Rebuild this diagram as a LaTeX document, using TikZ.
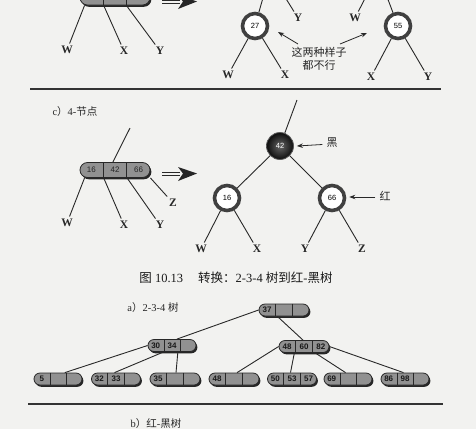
\documentclass[tikz,border=0pt]{standalone}
\usepackage{fontspec}
\setmainfont{Liberation Serif}
\newfontfamily\cjk{Noto Sans CJK SC}
\newfontfamily\keyfont{Liberation Sans}
\usetikzlibrary{calc,shadows,arrows.meta}

\definecolor{paper}{RGB}{242,242,240}
\definecolor{ink}{RGB}{40,40,40}
\definecolor{barfill}{RGB}{145,145,145}

\tikzset{
  edge/.style={draw=ink, line width=0.9pt},
  lbl/.style={font=\bfseries\fontsize{11.5}{11.5}\selectfont, text=ink, inner sep=2.5pt},
  keybar/.style={draw=ink, line width=0.8pt, fill=barfill, rounded corners=#1,
    inner sep=0pt,
    drop shadow={shadow xshift=1.4pt, shadow yshift=-1.8pt, fill=black!85, opacity=1}},
  keybar/.default=6pt,
  celldiv/.style={draw=ink, line width=0.7pt},
  bigkey/.style={font=\keyfont\fontsize{8}{8}\selectfont, text=black!85, inner sep=0pt},
  smallkey/.style={font=\keyfont\bfseries\fontsize{8}{8}\selectfont, text=black!90, inner sep=0pt},
  rednode/.style={circle, draw=black!75, line width=3.6pt, fill=white,
    minimum size=25pt, inner sep=0pt, font=\keyfont\fontsize{7.5}{7.5}\selectfont},
  blacknode/.style={circle, draw=black!65, line width=0.8pt, inner color=black!60,
    outer color=black!95, minimum size=27pt, inner sep=0pt, text=white,
    font=\keyfont\fontsize{7.5}{7.5}\selectfont},
  note/.style={draw=ink, line width=0.8pt, -{Stealth[length=6pt,width=4.5pt]}},
  rule/.style={draw=black!80, line width=1.1pt},
  heading/.style={font=\fontsize{10.5}{10.5}\selectfont, text=ink, inner sep=0pt},
  caption/.style={font=\fontsize{12.5}{12.5}\selectfont, text=black!90, inner sep=0pt},
  cjktext/.style={font=\cjk\fontsize{11}{13}\selectfont, text=ink, align=center, inner sep=0pt}
}

% a key bar of three cells: name, centre, width, height, corner radius, keys, key style
\newcommand\keynode[9]{%
  \node[keybar=#5, minimum width=#3, minimum height=#4] (#1) at (#2) {};
  \draw[celldiv] ($(#1.north west)!1/3!(#1.north east)$) -- ($(#1.south west)!1/3!(#1.south east)$);
  \draw[celldiv] ($(#1.north west)!2/3!(#1.north east)$) -- ($(#1.south west)!2/3!(#1.south east)$);
  \node[#9] at ($(#1.west)!1/6!(#1.east)$) {#6};
  \node[#9] at ($(#1.west)!1/2!(#1.east)$) {#7};
  \node[#9] at ($(#1.west)!5/6!(#1.east)$) {#8};
}

% double-shafted conversion arrow, drawn from its left end
\newcommand\convarrow[1]{%
  \begin{scope}[shift={(#1)}]
    \draw[ink, line width=0.8pt] (0,-1.5) -- (18,-1.5);
    \draw[ink, line width=0.8pt] (0,1.5) -- (18,1.5);
    \fill[black!85] (35,0) -- (16,-6.5) -- (21,0) -- (16,7.5) -- cycle;
  \end{scope}
}

\begin{document}
\begin{tikzpicture}[x=1pt,y=-1pt]
\useasboundingbox (0,0) rectangle (476,429);
\clip (0,0) rectangle (476,429);
\fill[paper] (0,0) rectangle (476,429);

% ---------- 3-node and its two red-black forms ----------
\keynode{tn}{115,-2.5}{70}{15}{7.5}{}{}{}{bigkey}
\node[lbl] (tW) at (67,50) {W};
\node[lbl] (tX) at (124,51) {X};
\node[lbl] (tY) at (160,51) {Y};
\draw[edge] ($(tn.south west)!0.07!(tn.south east)$) -- (tW);
\draw[edge] ($(tn.south west)!0.34!(tn.south east)$) -- (tX);
\draw[edge] ($(tn.south west)!0.66!(tn.south east)$) -- (tY);
\convarrow{162,1.5}

\coordinate (pa) at (270,-27);
\node[rednode] (r27) at (255,26) {27};
\node[lbl] (aY) at (298,18) {Y};
\node[lbl] (aW) at (228,75) {W};
\node[lbl] (aX) at (285,75) {X};
\draw[edge] (pa) -- (r27);
\draw[edge] (pa) -- (aY);
\draw[edge] (r27) -- (aW);
\draw[edge] (r27) -- (aX);

\coordinate (pb) at (378,-27);
\node[rednode] (r55) at (398,26) {55};
\node[lbl] (bW) at (355,18) {W};
\node[lbl] (bX) at (371,77) {X};
\node[lbl] (bY) at (428,77) {Y};
\draw[edge] (pb) -- (bW);
\draw[edge] (pb) -- (r55);
\draw[edge] (r55) -- (bX);
\draw[edge] (r55) -- (bY);

\node[cjktext] (both) at (319,59) {这两种样子\\都不行};
\coordinate (hl) at (278,32);
\coordinate (hr) at (367,33);
\draw[note] (298,44) -- (hl);
\draw[note] (340,44) -- (hr);

\draw[rule] (30,89) -- (441,89);

% ---------- c) 4-node ----------
\node[heading] (hc) at (75,112) {c{\cjk ）}4-{\cjk 节点}};

\keynode{fn}{115,170}{70}{15}{7.5}{16}{42}{66}{bigkey}
\coordinate (fnup) at (130,128);
\draw[edge] ($(fn.north west)!0.47!(fn.north east)$) -- (fnup);
\node[lbl] (cW) at (67,223) {W};
\node[lbl] (cX) at (124,225) {X};
\node[lbl] (cY) at (160,225) {Y};
\node[lbl] (cZ) at (173,203) {Z};
\draw[edge] ($(fn.south west)!0.07!(fn.south east)$) -- (cW);
\draw[edge] ($(fn.south west)!0.34!(fn.south east)$) -- (cX);
\draw[edge] ($(fn.south west)!0.67!(fn.south east)$) -- (cY);
\draw[edge] (fn.south east) -- (cZ);
\convarrow{162,173.5}

\coordinate (kup) at (297,100);
\node[blacknode] (k42) at (280,146) {42};
\node[rednode] (k16) at (227,198) {16};
\node[rednode] (k66) at (332,198) {66};
\draw[edge] (k42) -- (kup);
\draw[edge] (k42) -- (k16);
\draw[edge] (k42) -- (k66);
\node[lbl] (dW) at (201,249) {W};
\node[lbl] (dX) at (257,249) {X};
\node[lbl] (dY) at (305,249) {Y};
\node[lbl] (dZ) at (362,249) {Z};
\draw[edge] (k16) -- (dW);
\draw[edge] (k16) -- (dX);
\draw[edge] (k66) -- (dY);
\draw[edge] (k66) -- (dZ);

\node[cjktext] (tblack) at (332,143) {黑};
\node[cjktext] (tred) at (385,196) {红};
\draw[note] (tblack.west) ++(-4,1.5) -- ($(k42.east)+(3,0)$);
\draw[note] (tred.west) ++(-4,1) -- ($(k66.east)+(3,-1)$);

\node[caption] (cap) at (236,278) {{\cjk 图} 10.13\hspace{1.2em}{\cjk 转换：}2-3-4 {\cjk 树到红}-{\cjk 黑树}};

% ---------- a) 2-3-4 tree ----------
\node[heading] (ha) at (153,308) {a{\cjk ）}2-3-4 {\cjk 树}};

\keynode{root}{284,310}{50}{12}{6}{37}{}{}{smallkey}
\keynode{la}{172,345.5}{48}{12}{6}{30}{34}{}{smallkey}
\keynode{lb}{304,346.5}{50}{12}{6}{48}{60}{82}{smallkey}

\keynode{f5}{58,379}{48}{12}{6}{5}{}{}{smallkey}
\keynode{f32}{116,379}{49}{12}{6}{32}{33}{}{smallkey}
\keynode{f35}{175,379}{50}{12}{6}{35}{}{}{smallkey}
\keynode{f48}{234,379}{50}{12}{6}{48}{}{}{smallkey}
\keynode{f50}{292,379}{49}{12}{6}{50}{53}{57}{smallkey}
\keynode{f69}{348,379}{48}{12}{6}{69}{}{}{smallkey}
\keynode{f86}{405,379}{48}{12}{6}{86}{98}{}{smallkey}

\draw[edge] (root.west) -- ($(la.north west)!0.6!(la.north east)$);
\draw[edge] ($(root.south west)!0.37!(root.south east)$) -- ($(lb.north west)!0.48!(lb.north east)$);
\draw[edge] (la.west) -- ($(f5.north west)!0.64!(f5.north east)$);
\draw[edge] ($(la.south west)!0.33!(la.south east)$) -- ($(f32.north west)!0.47!(f32.north east)$);
\draw[edge] ($(la.south west)!0.62!(la.south east)$) -- ($(f35.north west)!0.52!(f35.north east)$);
\draw[edge] (lb.west) -- ($(f48.north west)!0.56!(f48.north east)$);
\draw[edge] ($(lb.south west)!0.31!(lb.south east)$) -- ($(f50.north west)!0.47!(f50.north east)$);
\draw[edge] ($(lb.south west)!0.72!(lb.south east)$) -- ($(f69.north west)!0.45!(f69.north east)$);
\draw[edge] (lb.east) -- ($(f86.north west)!0.47!(f86.north east)$);

\draw[rule] (28,404) -- (443,404);

\node[heading] (hb) at (156,423.5) {b{\cjk ）}{\cjk 红}-{\cjk 黑树}};
\end{tikzpicture}
\end{document}
